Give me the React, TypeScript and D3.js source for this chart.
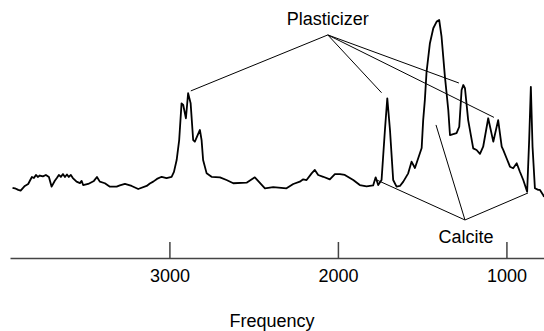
import { useEffect, useRef } from 'react';
import * as d3 from 'd3';

// wavenumber (cm-1)
const freq = [
  3931, 3917, 3897, 3883, 3871, 3858, 3838, 3828, 3816, 3804, 3792, 3781, 3769, 3751, 3733, 3715,
  3699, 3680, 3668, 3656, 3644, 3632, 3620, 3608, 3597, 3585, 3573, 3551, 3531, 3521, 3512, 3482,
  3448, 3430, 3413, 3383, 3353, 3313, 3294, 3264, 3224, 3185, 3135, 3116, 3096, 3074, 3046, 3017,
  2987, 2973, 2957, 2942, 2928, 2918, 2902, 2889, 2874, 2859, 2849, 2819, 2809, 2800, 2779, 2750,
  2700, 2661, 2621, 2542, 2493, 2433, 2384, 2305, 2265, 2226, 2206, 2186, 2156, 2137, 2117, 2087,
  2048, 2018, 1988, 1959, 1909, 1870, 1830, 1791, 1776, 1761, 1741, 1721, 1707, 1691, 1672, 1652,
  1632, 1612, 1583, 1563, 1543, 1523, 1503, 1494, 1484, 1474, 1454, 1434, 1414, 1399, 1385, 1365,
  1345, 1335, 1296, 1280, 1266, 1256, 1246, 1227, 1197, 1177, 1157, 1138, 1108, 1078, 1049, 1028,
  1019, 999, 979, 960, 939, 920, 900, 877, 865, 855, 845, 831, 811, 801, 782, 777,
];

// relative absorbance
const absorb = [
  0.068, 0.065, 0.056, 0.052, 0.065, 0.078, 0.089, 0.107, 0.128, 0.122, 0.139, 0.128, 0.136, 0.131, 0.139, 0.128,
  0.074, 0.107, 0.122, 0.139, 0.128, 0.144, 0.128, 0.142, 0.128, 0.139, 0.122, 0.102, 0.094, 0.106, 0.083, 0.089,
  0.106, 0.128, 0.102, 0.093, 0.074, 0.074, 0.081, 0.089, 0.078, 0.061, 0.078, 0.092, 0.102, 0.117, 0.129, 0.121,
  0.129, 0.156, 0.222, 0.333, 0.537, 0.528, 0.454, 0.593, 0.537, 0.333, 0.324, 0.389, 0.333, 0.222, 0.148, 0.129,
  0.126, 0.111, 0.093, 0.096, 0.126, 0.065, 0.071, 0.065, 0.089, 0.102, 0.115, 0.111, 0.148, 0.167, 0.139, 0.129,
  0.115, 0.144, 0.144, 0.139, 0.111, 0.083, 0.076, 0.081, 0.126, 0.083, 0.111, 0.389, 0.565, 0.389, 0.111, 0.074,
  0.078, 0.102, 0.148, 0.213, 0.178, 0.233, 0.289, 0.444, 0.556, 0.711, 0.871, 0.954, 0.991, 1.0, 0.907, 0.685,
  0.5, 0.361, 0.371, 0.407, 0.611, 0.639, 0.621, 0.444, 0.287, 0.278, 0.256, 0.296, 0.454, 0.324, 0.444, 0.296,
  0.278, 0.232, 0.185, 0.176, 0.204, 0.157, 0.111, 0.046, 0.333, 0.629, 0.296, 0.065, 0.056, 0.056, 0.028, 0.017,
];

const tickValues = [3000, 2000, 1000];

// annotation: label anchor [freq, absorb] and the peaks it points at
const plasticizerAnchor = [2060, 0.917];
const plasticizerPeaks = [[2873, 0.606], [1741, 0.596], [1282, 0.65], [1074, 0.459]];
const calciteAnchor = [1246, -0.111];
const calcitePeaks = [[1769, 0.111], [1418, 0.417], [872, 0.039]];

export default function App() {
  const ref = useRef<SVGSVGElement | null>(null);

  useEffect(() => {
    if (!ref.current) return;
    const width = 544;
    const height = 331;
    const svg = d3.select(ref.current);
    svg.selectAll('*').remove();

    const x = d3.scaleLinear().domain([3946, 777]).range([10, 544]);
    const y = d3.scaleLinear().domain([0, 1]).range([200, 20]);
    const axisY = 258;
    const font = 'Liberation Sans, Arial, sans-serif';

    const pts = freq.map((f, i) => [f, absorb[i]] as [number, number]);
    const line = d3.line<[number, number]>().x((d) => x(d[0])).y((d) => y(d[1]));

    svg.append('path')
      .attr('d', line(pts))
      .attr('fill', 'none')
      .attr('stroke', '#000')
      .attr('stroke-width', 1.8)
      .attr('stroke-linejoin', 'round');

    // annotation lines
    const g = svg.append('g').attr('stroke', '#000').attr('stroke-width', 1);
    plasticizerPeaks.forEach((p) => {
      g.append('line')
        .attr('x1', x(plasticizerAnchor[0])).attr('y1', y(plasticizerAnchor[1]))
        .attr('x2', x(p[0])).attr('y2', y(p[1]));
    });
    calcitePeaks.forEach((p) => {
      g.append('line')
        .attr('x1', x(calciteAnchor[0])).attr('y1', y(calciteAnchor[1]))
        .attr('x2', x(p[0])).attr('y2', y(p[1]));
    });

    svg.append('text')
      .attr('x', x(plasticizerAnchor[0]))
      .attr('y', 25)
      .attr('text-anchor', 'middle')
      .style('font-family', font)
      .style('font-size', '18px')
      .text('Plasticizer');

    svg.append('text')
      .attr('x', 466)
      .attr('y', 243)
      .attr('text-anchor', 'middle')
      .style('font-family', font)
      .style('font-size', '18px')
      .text('Calcite');

    const axis = d3.axisBottom(x)
      .tickValues(tickValues)
      .tickSizeInner(-16)
      .tickSizeOuter(0)
      .tickPadding(11)
      .tickFormat(d3.format('d'));

    const ax = svg.append('g').attr('transform', `translate(0,${axisY})`).call(axis);
    ax.select('.domain').attr('stroke', '#444').attr('stroke-width', 1.5);
    ax.selectAll('.tick line').attr('stroke', '#444').attr('stroke-width', 1.5);
    ax.selectAll('.tick text')
      .attr('fill', '#000')
      .style('font-family', font)
      .style('font-size', '18px');

    svg.append('text')
      .attr('x', width / 2)
      .attr('y', 327)
      .attr('text-anchor', 'middle')
      .style('font-family', font)
      .style('font-size', '18px')
      .text('Frequency');

    svg.attr('width', width).attr('height', height);
  }, []);

  return (
    <div style={{ position: 'absolute', left: 0, top: 0 }}>
      <svg ref={ref} width={544} height={331}></svg>
    </div>
  );
}
